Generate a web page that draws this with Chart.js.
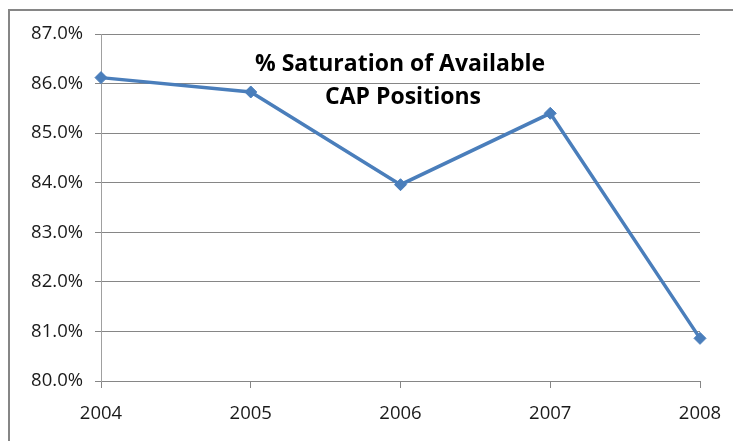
<!DOCTYPE html>
<html>
<head>
<meta charset="utf-8">
<script src="https://cdn.jsdelivr.net/npm/chart.js@4.4.1/dist/chart.umd.min.js"></script>
<style>
html,body{margin:0;padding:0;background:#fff;}
#wrap{position:relative;width:733px;height:441px;}
</style>
</head>
<body>
<div id="wrap"><canvas id="c" width="733" height="441"></canvas></div>
<script>
const years = ['2004', '2005', '2006', '2007', '2008'];
const saturation = [86.12, 85.83, 83.96, 85.40, 80.86];
const titleLines = ['% Saturation of Available', 'CAP Positions'];
const yMin = 80, yMax = 87, yStep = 1;

const frame = {
  id: 'frame',
  beforeDraw(chart) {
    const ctx = chart.ctx;
    ctx.save();
    ctx.strokeStyle = '#868686';
    ctx.lineWidth = 2;
    ctx.beginPath();
    ctx.moveTo(9, 441);
    ctx.lineTo(9, 10);
    ctx.lineTo(733, 10);
    ctx.stroke();
    ctx.restore();
  }
};

const overlayTitle = {
  id: 'overlayTitle',
  afterDraw(chart) {
    const ctx = chart.ctx;
    ctx.save();
    ctx.fillStyle = '#000';
    ctx.font = 'bold 23px "Open Sans"';
    ctx.textAlign = 'center';
    ctx.textBaseline = 'alphabetic';
    ctx.fillText(titleLines[0], 400, 71);
    ctx.fillText(titleLines[1], 403, 104);
    ctx.restore();
  }
};

new Chart(document.getElementById('c'), {
  type: 'line',
  data: {
    labels: years,
    datasets: [{
      data: saturation,
      borderColor: '#4A7EBB',
      backgroundColor: '#4A7EBB',
      borderWidth: 3.5,
      pointStyle: 'rectRot',
      pointRadius: 6,
      pointHoverRadius: 6,
      pointBorderWidth: 1,
      tension: 0,
      fill: false
    }]
  },
  options: {
    responsive: false,
    animation: false,
    devicePixelRatio: 1,
    layout: { padding: { top: 34, right: 33, left: 0, bottom: 0 } },
    plugins: { legend: { display: false }, tooltip: { enabled: false }, title: { display: false } },
    scales: {
      x: {
        offset: false,
        grid: { drawOnChartArea: false, drawTicks: true, tickLength: 7, color: '#868686' },
        border: { display: false },
        ticks: { color: '#1a1a1a', font: { family: 'Open Sans', size: 18.5 }, padding: 15, maxRotation: 0 },
        afterFit(scale) { scale.height = 60; scale.paddingRight = 0; scale.paddingLeft = 0; }
      },
      y: {
        min: yMin, max: yMax,
        grid: { color: '#868686', tickLength: 6, lineWidth: 1 },
        border: { display: true, color: '#a0a0a0', width: 1 },
        ticks: {
          stepSize: yStep,
          color: '#1a1a1a',
          font: { family: 'Open Sans', size: 18.5 },
          padding: 12,
          callback: v => v.toFixed(1) + '%'
        },
        afterFit(scale) { scale.width = 101; }
      }
    }
  },
  plugins: [frame, overlayTitle]
});
</script>
</body>
</html>
